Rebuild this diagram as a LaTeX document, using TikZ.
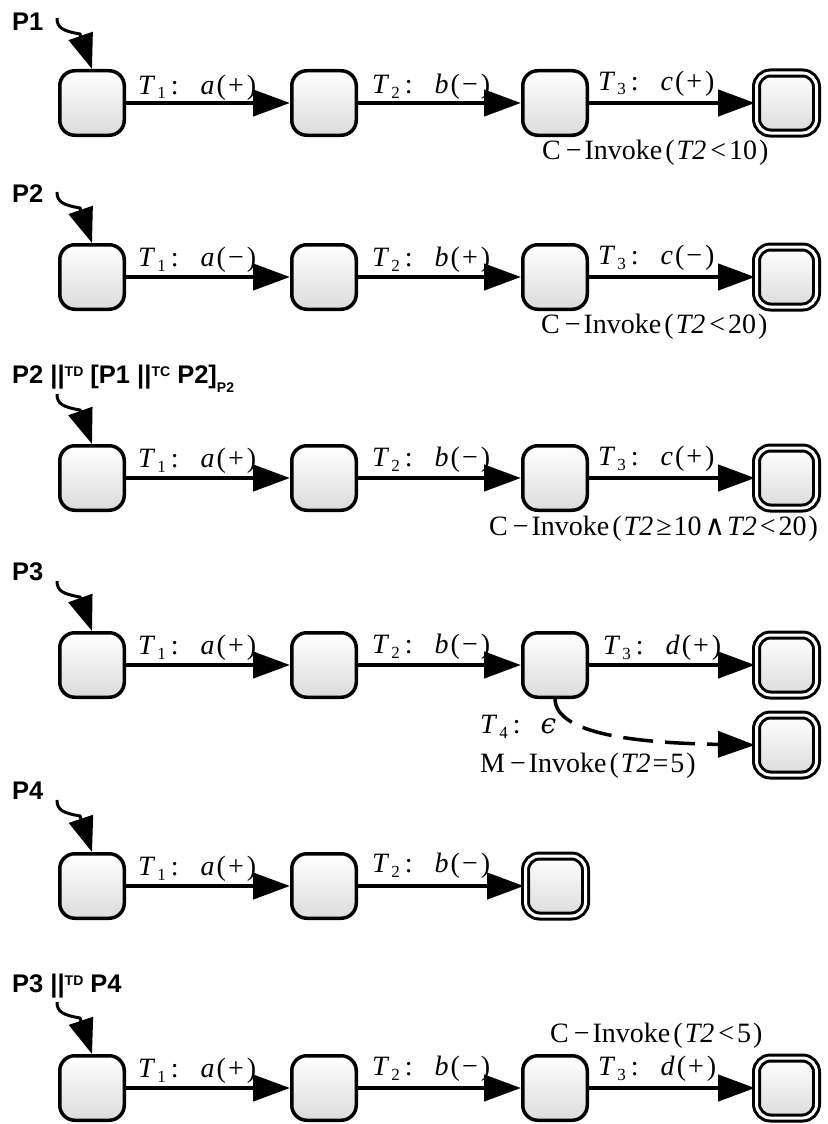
\documentclass[tikz,border=0pt]{standalone}
\usepackage{fontspec}
\setmainfont{Liberation Serif}
\newfontfamily\hdfont{Liberation Sans}
\newfontfamily\djv{DejaVu Serif}
\usetikzlibrary{arrows.meta}
\newcommand{\trl}[3]{\textit{T}\kern2pt\raisebox{-5pt}{\fontsize{17}{17}\selectfont #1}\kern5pt:\kern22pt\textit{#2}\kern2pt(\kern2pt#3\kern3pt)}
\newcommand{\cinv}[2]{#1\kern5pt−\kern3pt Invoke\kern3pt(\kern2pt#2\kern2pt)}
\newcommand{\hsup}[1]{\raisebox{7pt}{\fontsize{14}{14}\selectfont #1}}
\newcommand{\hsub}[1]{\raisebox{-9pt}{\fontsize{14}{14}\selectfont #1}}
\tikzset{
  st/.style={draw, line width=3.5pt, rounded corners=15pt, minimum width=64.5pt, minimum height=64.5pt, inner sep=0pt, top color=white, bottom color=black!14},
  fin/.style={draw, line width=3pt, double=white, double distance=3pt, rounded corners=14pt, minimum width=60pt, minimum height=60pt, inner sep=0pt, top color=white, bottom color=black!14},
  tr/.style={line width=4.5pt, -{Triangle[length=37pt,width=26pt]}},
  ini/.style={line width=3pt, -{Triangle[length=35pt,width=25pt]}},
  epsarr/.style={line width=3.5pt, dash pattern=on 30pt off 12pt, -{Triangle[length=37pt,width=26pt]}},
  lab/.style={anchor=base west, inner sep=0pt, font=\fontsize{28}{31}\selectfont},
  hd/.style={anchor=base west, inner sep=0pt, font=\hdfont\bfseries\fontsize{25.5}{29}\selectfont},
}
\begin{document}
\begin{tikzpicture}[x=1pt,y=-1pt]
\useasboundingbox (0,0) rectangle (827,1124);
% ---------- Row 1 ----------
\node[hd] (h1) at (12,31) {P1};
\node[st] (s11) at (92,103) {};
\node[st] (s12) at (324,103) {};
\node[st] (s13) at (555,103) {};
\node[fin] (f14) at (786.5,103) {};
\coordinate (i1s) at (57,18); \coordinate (i1m) at (80,34);
\draw[ini] (i1s) .. controls (57,28) and (63,31) .. (i1m) -- (s11.north);
\draw[tr] (s11) -- (s12);
\draw[tr] (s12) -- (s13);
\draw[tr] (s13) -- (f14);
\node[lab] (l11) at (138,94) {\trl{1}{a}{+}};
\node[lab] (l12) at (372,93) {\trl{2}{b}{−}};
\node[lab] (l13) at (598,90) {\trl{3}{c}{+}};
\node[lab] (c1) at (542,159) {\cinv{C}{\textit{T2}\kern4pt<\kern3pt10}};
% ---------- Row 2 ----------
\node[hd] (h2) at (12,202) {P2};
\node[st] (s21) at (92,277) {};
\node[st] (s22) at (324,277) {};
\node[st] (s23) at (555,277) {};
\node[fin] (f24) at (786.5,277) {};
\coordinate (i2s) at (57,192); \coordinate (i2m) at (80,208);
\draw[ini] (i2s) .. controls (57,202) and (63,205) .. (i2m) -- (s21.north);
\draw[tr] (s21) -- (s22);
\draw[tr] (s22) -- (s23);
\draw[tr] (s23) -- (f24);
\node[lab] (l21) at (138,266) {\trl{1}{a}{−}};
\node[lab] (l22) at (372,266) {\trl{2}{b}{+}};
\node[lab] (l23) at (598,264) {\trl{3}{c}{−}};
\node[lab] (c2) at (541,333) {\cinv{C}{\textit{T2}\kern4pt<\kern3pt20}};
% ---------- Row 3 ----------
\node[hd] (h3) at (12,383) {P2 ||\hsup{TD} [P1 ||\hsup{TC} P2]\hsub{P2}};
\node[st] (s31) at (92,478) {};
\node[st] (s32) at (324,478) {};
\node[st] (s33) at (555,478) {};
\node[fin] (f34) at (786.5,478) {};
\coordinate (i3s) at (57,394); \coordinate (i3m) at (80,410);
\draw[ini] (i3s) .. controls (57,404) and (63,407) .. (i3m) -- (s31.north);
\draw[tr] (s31) -- (s32);
\draw[tr] (s32) -- (s33);
\draw[tr] (s33) -- (f34);
\node[lab] (l31) at (138,467) {\trl{1}{a}{+}};
\node[lab] (l32) at (372,466) {\trl{2}{b}{−}};
\node[lab] (l33) at (598,465) {\trl{3}{c}{+}};
\node[lab] (c3) at (489,535) {\cinv{C}{\textit{T2}\kern3pt≥\kern2pt10\kern3pt{\djv ∧}\kern2pt\textit{T2}\kern3pt<\kern3pt20}};
% ---------- Row 4 ----------
\node[hd] (h4) at (12,580) {P3};
\node[st] (s41) at (92,665) {};
\node[st] (s42) at (324,665) {};
\node[st] (s43) at (555,665) {};
\node[fin] (f44) at (786.5,665) {};
\node[fin] (f45) at (786.5,745) {};
\coordinate (i4s) at (57,581); \coordinate (i4m) at (80,597);
\draw[ini] (i4s) .. controls (57,591) and (63,594) .. (i4m) -- (s41.north);
\draw[tr] (s41) -- (s42);
\draw[tr] (s42) -- (s43);
\draw[tr] (s43) -- (f44);
\draw[epsarr] (s43.south) .. controls (556,735) and (640,743) .. (f45.west);
\node[lab] (l41) at (138,654) {\trl{1}{a}{+}};
\node[lab] (l42) at (372,653) {\trl{2}{b}{−}};
\node[lab] (l43) at (603,654) {\trl{3}{d}{+}};
\node[lab] (l44) at (480,733) {\textit{T}\kern2pt\raisebox{-5pt}{\fontsize{17}{17}\selectfont 4}\kern5pt:\kern20pt{\djv\itshape ϵ}};
\node[lab] (m4) at (480,772) {\cinv{M}{\textit{T2}\kern2pt=\kern2pt5}};
% ---------- Row 5 ----------
\node[hd] (h5) at (12,799) {P4};
\node[st] (s51) at (92,886) {};
\node[st] (s52) at (324,886) {};
\node[fin] (f53) at (555.5,886) {};
\coordinate (i5s) at (57,800); \coordinate (i5m) at (80,816);
\draw[ini] (i5s) .. controls (57,810) and (63,813) .. (i5m) -- (s51.north);
\draw[tr] (s51) -- (s52);
\draw[tr] (s52) -- (f53);
\node[lab] (l51) at (138,875) {\trl{1}{a}{+}};
\node[lab] (l52) at (372,872) {\trl{2}{b}{−}};
% ---------- Row 6 ----------
\node[hd] (h6) at (12,992) {P3 ||\hsup{TD} P4};
\node[st] (s61) at (92,1088) {};
\node[st] (s62) at (324,1088) {};
\node[st] (s63) at (555,1088) {};
\node[fin] (f64) at (786.5,1088) {};
\coordinate (i6s) at (57,1002); \coordinate (i6m) at (80,1018);
\draw[ini] (i6s) .. controls (57,1012) and (63,1015) .. (i6m) -- (s61.north);
\draw[tr] (s61) -- (s62);
\draw[tr] (s62) -- (s63);
\draw[tr] (s63) -- (f64);
\node[lab] (l61) at (138,1077) {\trl{1}{a}{+}};
\node[lab] (l62) at (372,1075) {\trl{2}{b}{−}};
\node[lab] (l63) at (598,1075) {\trl{3}{d}{+}};
\node[lab] (c6) at (550,1042) {\cinv{C}{\textit{T2}\kern4pt<\kern3pt5}};
\end{tikzpicture}
\end{document}
